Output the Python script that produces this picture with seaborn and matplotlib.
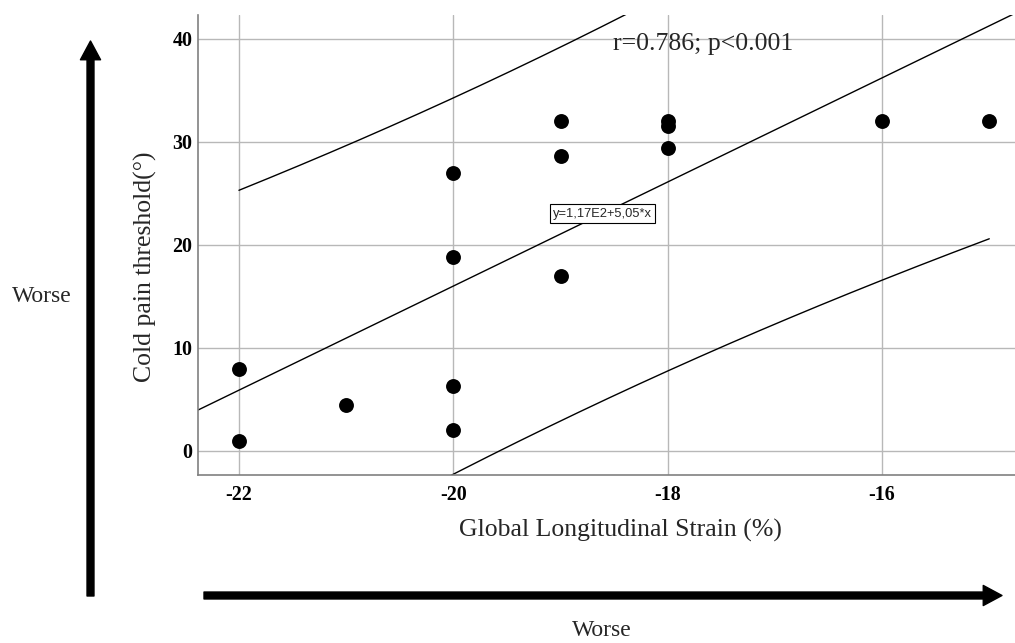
import numpy as np
import pandas as pd
import matplotlib
matplotlib.use("Agg")
import matplotlib.pyplot as plt
import seaborn as sns

# data
gls = [-22, -22, -21, -20, -20, -20, -20, -19, -19, -19, -18, -18, -18, -16, -15]
cold_pain = [8.0, 1.0, 4.5, 27.0, 18.8, 6.3, 2.0, 32.0, 28.6, 17.0, 32.0, 31.5, 29.4, 32.0, 32.0]

# fit printed on the chart: y=1,17E2+5,05*x
intercept = 117.0
slope = 5.05
t_crit = 2.160  # t(0.975, df=13)

xlim = (-22.382, -14.76)
ylim = (-2.33, 42.3)
xticks = [-22, -20, -18, -16]
yticks = [0, 10, 20, 30, 40]

sns.set_theme(style="whitegrid")
plt.rcParams['font.family'] = ['Liberation Serif', 'DejaVu Serif']
plt.rcParams['axes.unicode_minus'] = False

df = pd.DataFrame({'gls': gls, 'cold': cold_pain})

# 95% prediction interval for individual values
x = np.array(gls, dtype=float)
y = np.array(cold_pain, dtype=float)
n = len(x)
b1, b0 = np.polyfit(x, y, 1)
resid = y - (b0 + b1 * x)
s = np.sqrt(np.sum(resid ** 2) / (n - 2))
sxx = np.sum((x - x.mean()) ** 2)
xs = np.linspace(x.min(), x.max(), 200)
half = t_crit * s * np.sqrt(1 + 1 / n + (xs - x.mean()) ** 2 / sxx)
band = pd.DataFrame({'x': xs, 'lo': intercept + slope * xs - half,
                     'hi': intercept + slope * xs + half})
fit = pd.DataFrame({'x': np.linspace(xlim[0], xlim[1], 50)})
fit['y'] = intercept + slope * fit['x']

W, H = 1015, 643
fig = plt.figure(figsize=(W / 100, H / 100), dpi=100)
ax = fig.add_axes([198 / W, 1 - 475 / H, 817 / W, 460 / H])

sns.lineplot(data=fit, x='x', y='y', ax=ax, color='black', lw=1.0, zorder=2)
sns.lineplot(data=band, x='x', y='hi', ax=ax, color='black', lw=1.0, zorder=2)
sns.lineplot(data=band, x='x', y='lo', ax=ax, color='black', lw=1.0, zorder=2)
sns.scatterplot(data=df, x='gls', y='cold', ax=ax, color='black', s=115,
                edgecolor='black', linewidth=0, zorder=3)

ax.set_xlim(*xlim)
ax.set_ylim(*ylim)
ax.set_xticks(xticks)
ax.set_yticks(yticks)
ax.set_xlabel('')
ax.set_ylabel('')
ax.grid(True, color='#b8b8b8', lw=1.0)
ax.set_axisbelow(True)
for side in ['top', 'right']:
    ax.spines[side].set_visible(False)
for side in ['left', 'bottom']:
    ax.spines[side].set_visible(True)
    ax.spines[side].set_color('#808080')
    ax.spines[side].set_linewidth(1.2)
ax.tick_params(axis='both', length=0, labelsize=14.4, colors='black')
ax.tick_params(axis='x', pad=7)
ax.tick_params(axis='y', pad=4)
for lab in ax.get_xticklabels() + ax.get_yticklabels():
    lab.set_fontweight('bold')

ax.text(-18.51, 38.9, 'r=0.786; p<0.001', fontsize=18.5, ha='left', va='baseline', zorder=4)
ax.text(-18.61, intercept + slope * -18.61, 'y=1,17E2+5,05*x',
        family=['Liberation Sans', 'DejaVu Sans'], fontsize=9.3, ha='center', va='center',
        zorder=4, bbox=dict(boxstyle='square,pad=0.25', fc='white', ec='black', lw=0.8))

# axis titles
fig.text(620 / W, 1 - 530 / H, 'Global Longitudinal Strain (%)', fontsize=18.5,
         ha='center', va='center')
fig.text(145 / W, 1 - 267 / H, 'Cold pain threshold(°)', fontsize=18.5,
         ha='center', va='center', rotation=90)

# "Worse" arrows
arrow = dict(width=5, headwidth=14.5, headlength=13.5, facecolor='black',
             edgecolor='black', shrink=0)
ax.annotate('', xy=(90.5, H - 41), xytext=(90.5, H - 596), xycoords='figure pixels',
            textcoords='figure pixels', arrowprops=arrow, annotation_clip=False)
ax.annotate('', xy=(1002, H - 595.5), xytext=(204, H - 595.5), xycoords='figure pixels',
            textcoords='figure pixels', arrowprops=arrow, annotation_clip=False)
fig.text(42 / W, 1 - 297 / H, 'Worse', fontsize=17, ha='center', va='center')
fig.text(602 / W, 1 - 630 / H, 'Worse', fontsize=17, ha='center', va='center')

fig.savefig('out.png', dpi=100)
